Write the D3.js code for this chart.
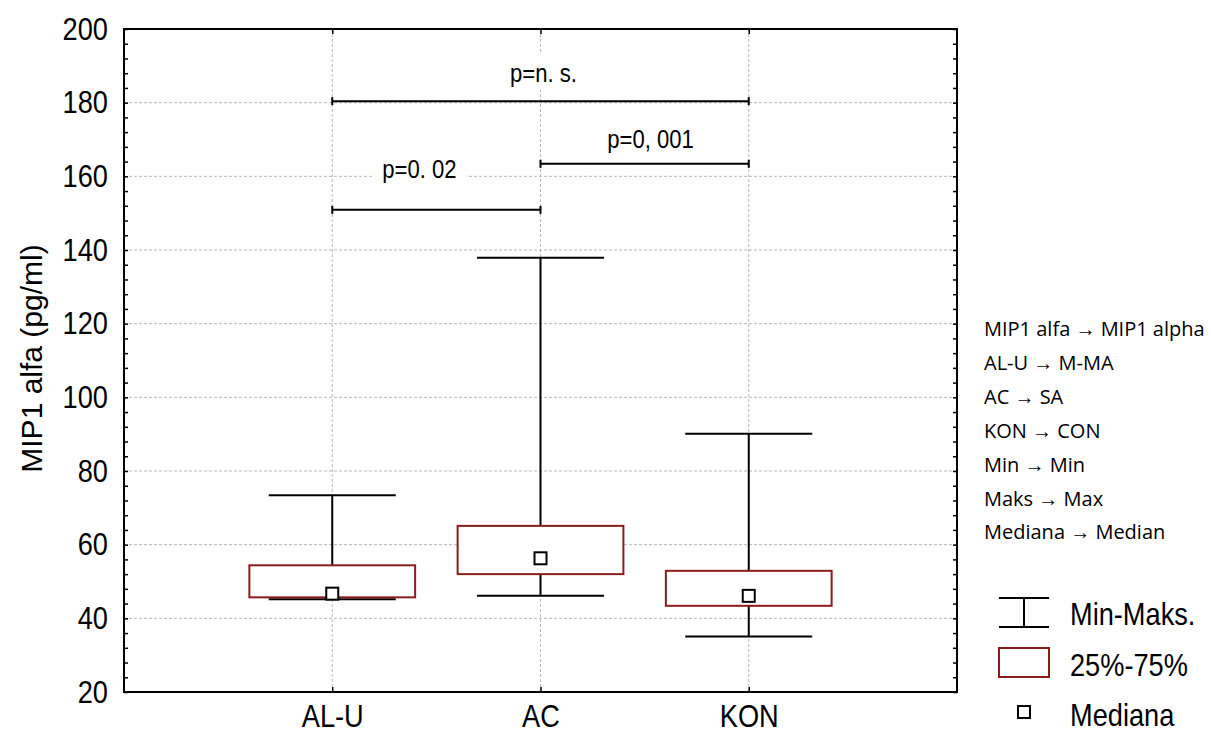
<!DOCTYPE html>
<html>
<head>
<meta charset="utf-8">
<script src="https://cdn.jsdelivr.net/npm/d3@7"></script>
<style>
  html, body { margin: 0; padding: 0; background: #fff; }
  svg { display: block; }
  text { font-family: "Liberation Sans", Arial, sans-serif; fill: #000; }
</style>
</head>
<body>
<svg id="chart" width="1211" height="733"></svg>
<script>
// ---------- data ----------
const categories = ["AL-U", "AC", "KON"];
const minVals    = [45.2, 46.1, 35.1];
const q1Vals     = [45.7, 52.0, 43.4];
const medianVals = [46.7, 56.3, 46.1];
const q3Vals     = [54.4, 65.1, 52.9];
const maxVals    = [73.4, 137.9, 90.1];

const yDomain     = [20, 200];
const yMajorTicks = [20, 40, 60, 80, 100, 120, 140, 160, 180, 200];
const yGridTicks  = [40, 60, 80, 100, 120, 140, 160, 180];

const compFrom   = ["AL-U", "AC", "AL-U"];
const compTo     = ["AC", "KON", "KON"];
const compLevel  = [150.9, 163.4, 180.4];
const compLabels = ["p=0. 02", "p=0, 001", "p=n. s."];

const yTitle = "MIP1 alfa (pg/ml)";
const legendLabels = ["Min-Maks.", "25%-75%", "Mediana"];
const notes = [
  "MIP1 alfa \u2192 MIP1 alpha",
  "AL-U \u2192 M-MA",
  "AC \u2192 SA",
  "KON \u2192 CON",
  "Min \u2192 Min",
  "Maks \u2192 Max",
  "Mediana \u2192 Median"
];

// ---------- layout ----------
const plot = { left: 124, right: 957, top: 29, bottom: 692 };
const NARROW = 0.85;
const boxColor = "#8c1c1c";
const gridColor = "#b8b8b8";
// label offsets relative to bracket midpoint (px)
const labelDx = [-17, 6, 3];
const labelDy = [-32, -16, -19];

const svg = d3.select("#chart");

const x = d3.scalePoint().domain(categories).range([plot.left, plot.right]).padding(1);
const y = d3.scaleLinear().domain(yDomain).range([plot.bottom, plot.top]);
const step = x.step();
const boxHalf = step * 0.398;
const capHalf = step * 0.305;

// ---------- grid ----------
const grid = svg.append("g");
grid.selectAll("line.h").data(yGridTicks).join("line")
  .attr("x1", plot.left).attr("x2", plot.right)
  .attr("y1", d => y(d)).attr("y2", d => y(d))
  .attr("stroke", gridColor).attr("stroke-width", 1).attr("stroke-dasharray", "3,2");
grid.selectAll("line.v").data(categories).join("line")
  .attr("x1", d => x(d)).attr("x2", d => x(d))
  .attr("y1", plot.top).attr("y2", plot.bottom)
  .attr("stroke", gridColor).attr("stroke-width", 1).attr("stroke-dasharray", "3,2");

// ---------- comparison brackets ----------
const comps = compLabels.map((lab, i) => ({ lab, from: compFrom[i], to: compTo[i], level: compLevel[i], i }));
const cg = svg.append("g");
comps.forEach(c => {
  const x1 = x(c.from), x2 = x(c.to), yy = y(c.level);
  const lx = (x1 + x2) / 2 + labelDx[c.i], ly = yy + labelDy[c.i];
  const t = cg.append("text")
    .attr("transform", `translate(${lx},${ly}) scale(${NARROW},1)`)
    .attr("text-anchor", "middle").attr("font-size", 26).text(c.lab);
  const bb = t.node().getBBox();
  const w = bb.width * NARROW;
  cg.insert("rect", "text")
    .attr("x", lx - w / 2 - 10).attr("y", ly + bb.y - 4)
    .attr("width", w + 20).attr("height", bb.height + 6)
    .attr("fill", "#fff");
  cg.append("line").attr("x1", x1).attr("x2", x2).attr("y1", yy).attr("y2", yy)
    .attr("stroke", "#000").attr("stroke-width", 2);
  [x1, x2].forEach(xx => cg.append("line").attr("x1", xx).attr("x2", xx)
    .attr("y1", yy - 4).attr("y2", yy + 4).attr("stroke", "#000").attr("stroke-width", 2));
});

// ---------- box plots ----------
const bg = svg.append("g");
categories.forEach((c, i) => {
  const cx = x(c);
  bg.append("line").attr("x1", cx).attr("x2", cx).attr("y1", y(maxVals[i])).attr("y2", y(minVals[i]))
    .attr("stroke", "#000").attr("stroke-width", 2);
  [maxVals[i], minVals[i]].forEach(v => bg.append("line")
    .attr("x1", cx - capHalf).attr("x2", cx + capHalf).attr("y1", y(v)).attr("y2", y(v))
    .attr("stroke", "#000").attr("stroke-width", 2));
  bg.append("rect").attr("x", cx - boxHalf).attr("width", boxHalf * 2)
    .attr("y", y(q3Vals[i])).attr("height", y(q1Vals[i]) - y(q3Vals[i]))
    .attr("fill", "#fff").attr("stroke", boxColor).attr("stroke-width", 2);
  bg.append("rect").attr("x", cx - 6).attr("y", y(medianVals[i]) - 6).attr("width", 12).attr("height", 12)
    .attr("fill", "#fff").attr("stroke", "#000").attr("stroke-width", 2);
});

// ---------- axes ----------
const minorTicks = d3.range(yDomain[0], yDomain[1] + 1, 4);
const leftAxis = d3.axisLeft(y).tickValues(minorTicks).tickSizeInner(-4).tickSizeOuter(0).tickPadding(16)
  .tickFormat(d => yMajorTicks.includes(d) ? d : "");
const ga = svg.append("g").attr("transform", `translate(${plot.left},0)`).call(leftAxis);
ga.selectAll("text").attr("font-size", 32).attr("font-family", "Liberation Sans, Arial, sans-serif")
  .attr("transform", `scale(${NARROW},1)`).attr("x", -16 / NARROW);

const rightAxis = d3.axisRight(y).tickValues(minorTicks).tickSizeInner(-4).tickSizeOuter(0).tickFormat("");
svg.append("g").attr("transform", `translate(${plot.right},0)`).call(rightAxis);

const bottomAxis = d3.axisBottom(x).tickSizeInner(-5).tickSizeOuter(0).tickPadding(12);
const gb = svg.append("g").attr("transform", `translate(0,${plot.bottom})`).call(bottomAxis);
gb.selectAll("text").attr("font-size", 32).attr("font-family", "Liberation Sans, Arial, sans-serif")
  .attr("transform", `scale(${NARROW},1)`);

const topAxis = d3.axisTop(x).tickSizeInner(-5).tickSizeOuter(0).tickFormat("");
svg.append("g").attr("transform", `translate(0,${plot.top})`).call(topAxis);

svg.selectAll(".domain").remove();
svg.selectAll(".tick line").attr("stroke", "#000").attr("stroke-width", 1.5);

svg.append("rect").attr("x", plot.left).attr("y", plot.top)
  .attr("width", plot.right - plot.left).attr("height", plot.bottom - plot.top)
  .attr("fill", "none").attr("stroke", "#000").attr("stroke-width", 2);

// ---------- y title ----------
svg.append("text")
  .attr("transform", `translate(42,${(plot.top + plot.bottom) / 2 - 2}) rotate(-90)`)
  .attr("text-anchor", "middle").attr("font-size", 30).text(yTitle);

// ---------- notes ----------
svg.append("g").selectAll("text").data(notes).join("text")
  .attr("x", 984).attr("y", (d, i) => 336 + i * 33.9)
  .attr("font-size", 20)
  .style("font-family", "'Open Sans', 'Noto Sans', sans-serif")
  .text(d => d);

// ---------- legend ----------
const lg = svg.append("g");
lg.append("line").attr("x1", 999).attr("x2", 1049).attr("y1", 598).attr("y2", 598).attr("stroke", "#000").attr("stroke-width", 2);
lg.append("line").attr("x1", 999).attr("x2", 1049).attr("y1", 627).attr("y2", 627).attr("stroke", "#000").attr("stroke-width", 2);
lg.append("line").attr("x1", 1024).attr("x2", 1024).attr("y1", 598).attr("y2", 627).attr("stroke", "#000").attr("stroke-width", 2);
lg.append("rect").attr("x", 999).attr("y", 648).attr("width", 50).attr("height", 29)
  .attr("fill", "#fff").attr("stroke", boxColor).attr("stroke-width", 2);
lg.append("rect").attr("x", 1018).attr("y", 706).attr("width", 12).attr("height", 12)
  .attr("fill", "#fff").attr("stroke", "#000").attr("stroke-width", 2);
const legendY = [625, 676, 726];
legendLabels.forEach((t, i) => lg.append("text")
  .attr("transform", `translate(1070,${legendY[i]}) scale(${NARROW},1)`)
  .attr("font-size", 32).text(t));
</script>
</body>
</html>
